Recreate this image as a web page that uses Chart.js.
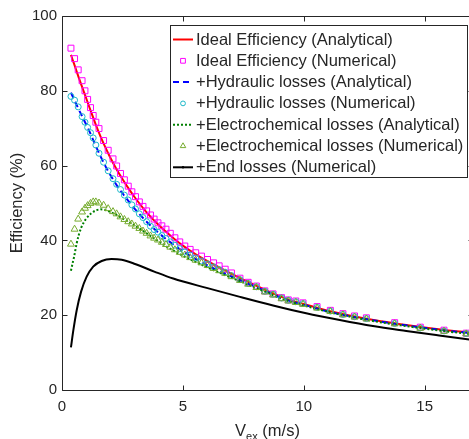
<!DOCTYPE html>
<html><head><meta charset="utf-8">
<script src="https://cdn.jsdelivr.net/npm/chart.js@4/dist/chart.umd.min.js"></script>
<style>html,body{margin:0;padding:0;overflow:hidden;background:#fff}</style>
</head><body>
<canvas id="c" width="480" height="439"></canvas>
<script>
// ---- data ----
const xTicks = [0, 5, 10, 15];
const yTicks = [0, 20, 40, 60, 80, 100];

const anV = [0.37,0.45,0.5,0.6,0.7,0.8,0.9,1.0,1.2,1.4,1.6,1.8,2.0,2.25,2.5,2.75,3.0,3.5,4.0,4.5,5.0,5.5,6.0,6.5,7.0,7.5,8.0,8.5,9.0,9.5,10,11,12,13,14,15,16,17];
const idealAnalytical = [89.6,88.1,87.2,85.3,83.4,81.6,79.8,78.0,74.4,70.9,67.7,64.8,62.1,59.1,56.4,53.9,51.6,47.5,44.1,41.2,38.6,36.4,34.5,32.8,31.1,29.5,28.0,26.5,25.1,23.9,23.0,21.2,19.8,18.6,17.6,16.7,15.9,15.3];
const hydraulicAnalytical = [79.5,78.4,77.7,76.3,74.9,73.6,72.3,71.0,68.2,65.2,62.4,59.8,57.5,54.9,52.6,50.5,48.5,45.0,42.0,39.4,37.1,35.1,33.4,31.8,30.4,29.0,27.6,26.2,24.8,23.7,22.8,21.0,19.6,18.5,17.5,16.6,15.8,15.2];
const electroAnalytical = [31.9,34.2,35.6,39.0,41.6,43.5,44.8,45.8,47.2,48.0,48.3,48.1,47.6,46.8,45.9,45.0,44.0,41.9,39.7,37.7,35.9,34.3,32.8,31.4,30.0,28.7,27.3,26.0,24.6,23.5,22.6,20.9,19.5,18.3,17.3,16.4,15.6,14.9];

const numV = [0.37,0.52,0.67,0.83,0.95,1.06,1.18,1.29,1.40,1.53,1.72,1.91,2.11,2.26,2.42,2.58,2.74,2.89,3.04,3.20,3.35,3.50,3.66,3.81,3.97,4.13,4.30,4.48,4.67,4.87,5.08,5.30,5.53,5.77,6.02,6.27,6.50,6.75,7.01,7.36,7.70,8.04,8.39,8.73,9.08,9.36,9.67,9.97,10.55,11.10,11.62,12.10,12.59,13.76,14.82,15.80,16.72];
const idealNumerical = [91.4,88.6,85.6,82.7,80.0,77.7,75.5,73.4,71.6,69.9,66.7,64.1,61.8,59.9,57.9,56.2,54.5,53.0,51.7,50.3,49.1,47.9,46.8,45.7,44.7,43.9,43.0,41.9,40.7,39.6,38.5,37.6,36.7,35.8,34.9,34.0,33.2,32.3,31.3,29.9,28.8,27.8,26.5,25.7,24.7,24.1,23.8,23.3,22.3,21.3,20.4,19.8,19.3,18.0,16.8,16.0,15.2];
const hydraulicNumerical = [78.5,77.5,75.7,73.1,71.6,70.2,68.8,67.4,65.5,63.3,60.9,58.6,56.5,55.0,53.6,52.1,50.8,49.5,48.4,47.1,46.1,45.0,43.8,42.9,42.2,41.3,40.5,39.6,38.7,37.8,36.9,36.1,35.3,34.5,33.7,32.9,32.2,31.5,30.6,29.5,28.5,27.6,26.4,25.6,24.6,24.0,23.6,23.1,22.1,21.1,20.2,19.6,19.1,17.8,16.6,15.8,15.1];
const electroNumerical = [39.0,43.0,45.7,47.6,48.6,49.3,49.9,50.3,50.3,50.0,49.4,48.5,47.7,47.1,46.3,45.6,45.0,44.4,43.8,43.2,42.5,41.9,41.2,40.6,40.1,39.5,38.9,38.2,37.5,36.8,36.1,35.4,34.7,34.0,33.3,32.5,31.9,31.2,30.3,29.3,28.3,27.4,26.2,25.4,24.4,23.8,23.4,22.9,21.9,21.0,20.1,19.5,19.0,17.7,16.5,15.7,15.0];

const endV = [0.37,0.47,0.61,0.79,1.02,1.29,1.64,2.05,2.47,3.02,3.84,4.6,5.98,7.36,8.73,10.1,11.49,12.86,14.24,15.6,17.0];
const endNumerical = [11.4,16.0,21.4,26.3,30.3,33.0,34.5,35.0,34.8,33.7,31.6,29.8,27.3,24.9,22.6,20.5,18.7,17.1,15.8,14.6,13.4];

const labels = [
  'Ideal Efficiency (Analytical)',
  'Ideal Efficiency (Numerical)',
  '+Hydraulic losses (Analytical)',
  '+Hydraulic losses (Numerical)',
  '+Electrochemical losses (Analytical)',
  '+Electrochemical losses (Numerical)',
  '+End losses (Numerical)'
];

const pts = (xs, ys) => xs.map((v, i) => ({x: v, y: ys[i]}));
const TXT = '#262626';
const FONT = '"Liberation Sans", Arial, Helvetica, sans-serif';

const lineDs = (label, xs, ys, color, dash, order) => ({
  label, data: pts(xs, ys), showLine: true, borderColor: color, backgroundColor: color,
  borderWidth: 2, borderDash: dash, pointRadius: 0, cubicInterpolationMode: 'monotone', order
});
const markDs = (label, xs, ys, color, style, r, order) => ({
  label, data: pts(xs, ys), showLine: false, borderColor: color, backgroundColor: 'rgba(0,0,0,0)',
  pointStyle: style, pointRadius: r, pointBorderWidth: 1, order
});

const datasets = [
  lineDs(labels[0], anV, idealAnalytical, '#FF0000', [], 7),
  markDs(labels[1], numV, idealNumerical, '#FF00FF', 'rect', 4.2, 6),
  lineDs(labels[2], anV, hydraulicAnalytical, '#0000FF', [6, 4], 5),
  markDs(labels[3], numV, hydraulicNumerical, '#1DB9C9', 'circle', 3, 4),
  lineDs(labels[4], anV, electroAnalytical, '#008000', [2, 2], 3),
  markDs(labels[5], numV, electroNumerical, '#77AC30', 'triangle', 4, 2),
  lineDs(labels[6], endV, endNumerical, '#000000', [], 1)
];

const frame = {
  id: 'frame',
  afterDraw(chart) {
    const {ctx, chartArea: a, scales: {x, y}} = chart;
    ctx.save();
    ctx.strokeStyle = TXT; ctx.lineWidth = 1;
    ctx.beginPath();
    const L = Math.round(a.left) + 0.5, R = Math.round(a.right) + 0.5;
    const T = Math.round(a.top) + 0.5, B = Math.round(a.bottom) + 0.5;
    ctx.moveTo(L, T); ctx.lineTo(R, T); ctx.lineTo(R, B); ctx.lineTo(L, B); ctx.closePath();
    const TL = 5;
    xTicks.forEach(v => {
      const px = Math.round(x.getPixelForValue(v)) + 0.5;
      ctx.moveTo(px, B); ctx.lineTo(px, B - TL);
      ctx.moveTo(px, T); ctx.lineTo(px, T + TL);
    });
    yTicks.forEach(v => {
      const py = Math.round(y.getPixelForValue(v)) + 0.5;
      ctx.moveTo(L, py); ctx.lineTo(L + TL, py);
      ctx.moveTo(R, py); ctx.lineTo(R - TL, py);
    });
    ctx.stroke();

    // x-axis title with subscript
    ctx.fillStyle = TXT;
    ctx.textBaseline = 'alphabetic';
    const big = '16.5px ' + FONT, small = '11px ' + FONT;
    ctx.font = big; const wV = ctx.measureText('V').width; const wU = ctx.measureText(' (m/s)').width;
    ctx.font = small; const wS = ctx.measureText('ex').width;
    const total = wV + wS + wU;
    let cx = (a.left + a.right) / 2 - total / 2;
    const base = 435.5;
    ctx.textAlign = 'left';
    ctx.font = big; ctx.fillText('V', cx, base); cx += wV;
    ctx.font = small; ctx.fillText('ex', cx, base + 4); cx += wS;
    ctx.font = big; ctx.fillText(' (m/s)', cx, base);

    // legend
    const bx = 170.5, by = 25.5, bw = 297, bh = 152;
    ctx.fillStyle = '#fff';
    ctx.fillRect(bx, by, bw, bh);
    ctx.strokeStyle = TXT; ctx.lineWidth = 1;
    ctx.strokeRect(bx, by, bw, bh);
    const rowY0 = 39.5, pitch = 21.3;
    ctx.font = '16.5px ' + FONT;
    ctx.textBaseline = 'middle';
    datasets.forEach((ds, i) => {
      const yy = rowY0 + i * pitch;
      ctx.save();
      if (ds.showLine) {
        ctx.strokeStyle = ds.borderColor; ctx.lineWidth = 2;
        ctx.setLineDash(ds.borderDash || []);
        ctx.beginPath(); ctx.moveTo(173, yy); ctx.lineTo(193, yy); ctx.stroke();
        if (i === 6) { ctx.fillStyle = '#000'; ctx.beginPath(); ctx.arc(183, yy, 1.2, 0, Math.PI*2); ctx.fill(); }
      } else {
        ctx.strokeStyle = ds.borderColor; ctx.lineWidth = 1;
        ctx.fillStyle = 'rgba(0,0,0,0)';
        Chart.helpers.drawPoint(ctx, {pointStyle: ds.pointStyle, radius: ds.pointRadius * 0.8, borderWidth: 1}, 183, yy);
      }
      ctx.restore();
      ctx.fillStyle = TXT;
      ctx.fillText(ds.label, 196, yy + 0.5);
    });
    ctx.restore();
  }
};

new Chart(document.getElementById('c'), {
  type: 'scatter',
  data: {datasets},
  options: {
    responsive: false, animation: false, devicePixelRatio: 1,
    layout: {padding: {left: 0, right: 7, top: 16, bottom: 0}},
    plugins: {legend: {display: false}, tooltip: {enabled: false}},
    scales: {
      x: {
        type: 'linear', min: 0, max: 17,
        afterFit: s => { s.height = 49; },
        afterBuildTicks: s => { s.ticks = xTicks.map(v => ({value: v})); },
        grid: {display: false, drawTicks: false},
        border: {display: false},
        ticks: {color: TXT, font: {family: FONT, size: 15}, padding: 8, maxRotation: 0}
      },
      y: {
        type: 'linear', min: 0, max: 100,
        afterFit: s => { s.width = 62; },
        afterBuildTicks: s => { s.ticks = yTicks.map(v => ({value: v})); },
        grid: {display: false, drawTicks: false},
        border: {display: false},
        ticks: {color: TXT, font: {family: FONT, size: 15}, padding: 5},
        title: {display: true, text: 'Efficiency (%)', color: TXT, font: {family: FONT, size: 16.5}, padding: {top: 8, bottom: 0}}
      }
    }
  },
  plugins: [frame]
});
</script>
</body></html>
